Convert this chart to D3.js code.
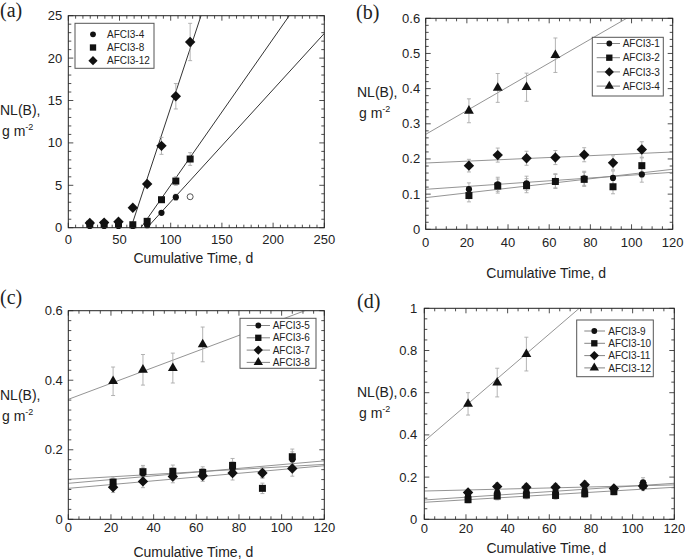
<!DOCTYPE html>
<html><head><meta charset="utf-8">
<script src="https://cdn.jsdelivr.net/npm/d3@7"></script>
<style>
body{margin:0;background:#fff;}
svg{display:block;font-family:"Liberation Sans",Arial,sans-serif;}
</style></head><body>
<svg id="c" width="685" height="559"></svg>
<script>
// ---------------- DATA ----------------
const timesA = [21, 35, 49, 63, 77, 91, 105, 119];
const times = [21, 35, 49, 63, 77, 91, 105];

// Panel (a)
const a4 = [0.2, 0.2, 0.2, 0.2, 0.3, 1.75, 3.6];
const a4Err = [0, 0, 0, 0, 0, 0, 0.35];
const a4Open = [[119, 3.65]];
const a8 = [0.4, 0.4, 0.45, 0.35, 0.75, 3.3, 5.5, 8.1];
const a8Err = [0, 0, 0, 0, 0, 0, 0.5, 0.75];
const a12 = [0.55, 0.6, 0.7, 2.35, 5.15, 9.65, 15.5, 21.9];
const a12Err = [0, 0, 0, 0, 0, 1.0, 1.5, 2.2];
const fitA = [[-10.19, 0.1324], [-12.26, 0.1727], [-22.37, 0.3655]]; // [intercept, slope]
const legendA = ["AFCI3-4", "AFCI3-8", "AFCI3-12"];
const yTicksA = [0, 5, 10, 15, 20, 25];
const xTicksA = [0, 50, 100, 150, 200, 250];

// Panel (b)
const b1 = [0.114, 0.128, 0.131, 0.138, 0.145, 0.146, 0.156];
const b2 = [0.096, 0.123, 0.124, 0.136, 0.142, 0.121, 0.181];
const b3 = [0.181, 0.211, 0.202, 0.204, 0.212, 0.189, 0.227];
const b4 = [0.337, 0.402, 0.404, 0.495];
const bErr = [0.018, 0.02, 0.02, 0.02, 0.02, 0.02, 0.022];
const b4Err = [0.034, 0.041, 0.04, 0.049];
const fitB = [[0.1137, 0.000403], [0.09, 0.000672], [0.1885, 0.000261], [0.27, 0.00338]];
const legendB = ["AFCI3-1", "AFCI3-2", "AFCI3-3", "AFCI3-4"];
const yTicksB = [0, 0.1, 0.2, 0.3, 0.4, 0.5, 0.6];

// Panel (c)
const c5 = [0.102, 0.132, 0.13, 0.13, 0.145, 0.135, 0.172];
const c6 = [0.107, 0.137, 0.138, 0.135, 0.155, 0.089, 0.18];
const c7 = [0.092, 0.109, 0.123, 0.125, 0.133, 0.133, 0.146];
const c8 = [0.397, 0.43, 0.435, 0.503];
const cErr = [0.015, 0.018, 0.018, 0.016, 0.02, 0.015, 0.022];
const c8Err = [0.041, 0.044, 0.043, 0.05];
const fitC = [[0.115, 0.000358], [0.1035, 0.000538], [0.089, 0.000542], [0.345, 0.0023]];
const legendC = ["AFCI3-5", "AFCI3-6", "AFCI3-7", "AFCI3-8"];
const yTicksC = [0, 0.2, 0.4, 0.6];

// Panel (d)
const d9 = [0.112, 0.128, 0.132, 0.133, 0.14, 0.145, 0.175];
const d10 = [0.093, 0.11, 0.115, 0.113, 0.121, 0.131, 0.16];
const d11 = [0.127, 0.155, 0.152, 0.152, 0.164, 0.146, 0.158];
const d12 = [0.547, 0.648, 0.783];
const dErr = [0.015, 0.018, 0.018, 0.018, 0.018, 0.015, 0.022];
const d12Err = [0.053, 0.068, 0.08];
const fitD = [[0.0915, 0.00066], [0.0806, 0.000593], [0.134, 0.000242], [0.37, 0.00847]];
const legendD = ["AFCI3-9", "AFCI3-10", "AFCI3-11", "AFCI3-12"];
const yTicksD = [0, 0.2, 0.4, 0.6, 0.8, 1];

const xTicksB = [0, 20, 40, 60, 80, 100, 120];

// ---------------- DRAWING ----------------
const svg = d3.select("#c");

const shapes = {
  circle: d3.symbol().type(d3.symbolCircle).size(30)(),
  square: d3.symbol().type(d3.symbolSquare).size(49)(),
  diamond: "M0,-5.2L5.2,0L0,5.2L-5.2,0Z",
  triangle: d3.symbol().type(d3.symbolTriangle).size(42)()
};
const legShapes = {
  circle: d3.symbol().type(d3.symbolCircle).size(26)(),
  square: d3.symbol().type(d3.symbolSquare).size(40)(),
  diamond: "M0,-4.6L4.6,0L0,4.6L-4.6,0Z",
  triangle: d3.symbol().type(d3.symbolTriangle).size(38)()
};

function panel(cfg) {
  const g = svg.append("g");
  const x = d3.scaleLinear().domain(cfg.xDom).range([cfg.x0, cfg.x1]);
  const y = d3.scaleLinear().domain(cfg.yDom).range([cfg.y1, cfg.y0]);
  const id = "clip" + cfg.label.replace(/\W/g, "");
  svg.append("clipPath").attr("id", id).append("rect")
    .attr("x", cfg.x0).attr("y", cfg.y0).attr("width", cfg.x1 - cfg.x0).attr("height", cfg.y1 - cfg.y0);

  // ticks (inside, all four sides)
  const minorX = [], minorY = [];
  const xs = cfg.xTicks, ys = cfg.yTicks;
  for (let i = 0; i < xs.length - 1; i++) {
    const st = (xs[i + 1] - xs[i]) / cfg.xSub;
    for (let k = 1; k < cfg.xSub; k++) minorX.push(xs[i] + st * k);
  }
  for (let i = 0; i < ys.length - 1; i++) {
    const st = (ys[i + 1] - ys[i]) / cfg.ySub;
    for (let k = 1; k < cfg.ySub; k++) minorY.push(ys[i] + st * k);
  }
  const tk = g.append("g").attr("stroke", "#222").attr("stroke-width", 0.8);
  const addX = (vals, len) => vals.forEach(v => {
    const px = x(v);
    tk.append("line").attr("x1", px).attr("x2", px).attr("y1", cfg.y1).attr("y2", cfg.y1 - len);
    tk.append("line").attr("x1", px).attr("x2", px).attr("y1", cfg.y0).attr("y2", cfg.y0 + len);
  });
  const addY = (vals, len) => vals.forEach(v => {
    const py = y(v);
    tk.append("line").attr("y1", py).attr("y2", py).attr("x1", cfg.x0).attr("x2", cfg.x0 + len);
    tk.append("line").attr("y1", py).attr("y2", py).attr("x1", cfg.x1).attr("x2", cfg.x1 - len);
  });
  addX(xs, 5); addX(minorX, 3); addY(ys, 5); addY(minorY, 3);

  // tick labels
  g.append("g").selectAll("text").data(xs).join("text")
    .attr("x", d => x(d)).attr("y", cfg.xLabY).attr("text-anchor", "middle")
    .attr("font-size", 13).attr("fill", "#222").text(d => d);
  g.append("g").selectAll("text").data(ys).join("text")
    .attr("x", cfg.x0 - cfg.yLabGap).attr("y", d => y(d) + 4.5).attr("text-anchor", "end")
    .attr("font-size", 13).attr("fill", "#222").text(d => d);

  // titles
  g.append("text").attr("x", (cfg.x0 + cfg.x1) / 2 - 3).attr("y", cfg.xTitleY).attr("text-anchor", "middle")
    .attr("font-size", 14).attr("fill", "#222").text("Cumulative Time, d");
  g.append("text").attr("x", cfg.yTitleX).attr("y", cfg.yTitleY).attr("font-size", 14).attr("fill", "#222").text("NL(B),");
  const t2 = g.append("text").attr("x", cfg.yTitleX + 2).attr("y", cfg.yTitleY + 21).attr("font-size", 14).attr("fill", "#222");
  t2.append("tspan").text("g m");
  t2.append("tspan").attr("dy", -6).attr("font-size", 9).text("-2");
  g.append("text").attr("x", cfg.labX).attr("y", cfg.labY).attr("font-family", "'Liberation Serif','Times New Roman',serif")
    .attr("font-size", 20).attr("fill", "#222").text(cfg.label);

  // fit lines
  const lg = g.append("g").attr("clip-path", `url(#${id})`);
  cfg.fits.forEach(f => {
    const xa = cfg.fitStart ? Math.max(cfg.xDom[0], -f[0] / f[1]) : cfg.xDom[0];
    const xb = cfg.xDom[1];
    lg.append("line").attr("x1", x(xa)).attr("y1", y(f[0] + f[1] * xa))
      .attr("x2", x(xb)).attr("y2", y(f[0] + f[1] * xb))
      .attr("stroke", cfg.fitColor).attr("stroke-width", cfg.fitWidth);
  });

  // series
  cfg.series.forEach(s => {
    const pts = s.vals.map((v, i) => ({ t: s.t[i], v, e: s.err ? s.err[i] : 0 }));
    const eg = g.append("g").attr("stroke", "#aaa").attr("stroke-width", 0.9);
    pts.filter(p => p.e > 0).forEach(p => {
      const px = x(p.t);
      eg.append("line").attr("x1", px).attr("x2", px).attr("y1", y(p.v - p.e)).attr("y2", y(p.v + p.e));
      eg.append("line").attr("x1", px - 2).attr("x2", px + 2).attr("y1", y(p.v - p.e)).attr("y2", y(p.v - p.e));
      eg.append("line").attr("x1", px - 2).attr("x2", px + 2).attr("y1", y(p.v + p.e)).attr("y2", y(p.v + p.e));
    });
  });
  cfg.series.forEach(s => {
    const pts = s.vals.map((v, i) => ({ t: s.t[i], v }));
    g.append("g").selectAll("path").data(pts).join("path")
      .attr("d", shapes[s.shape]).attr("transform", p => `translate(${x(p.t)},${y(p.v)})`)
      .attr("fill", "#111");
  });
  if (cfg.extra) cfg.extra(g, x, y);

  // frame
  g.append("rect").attr("x", cfg.x0).attr("y", cfg.y0).attr("width", cfg.x1 - cfg.x0).attr("height", cfg.y1 - cfg.y0)
    .attr("fill", "none").attr("stroke", "#222").attr("stroke-width", 1);

  // legend
  const L = cfg.legend;
  const lgd = g.append("g");
  lgd.append("rect").attr("x", L.x0).attr("y", L.y0).attr("width", L.x1 - L.x0).attr("height", L.y1 - L.y0)
    .attr("fill", "#fff").attr("stroke", "#555").attr("stroke-width", 1);
  L.names.forEach((n, i) => {
    const yy = L.rowY0 + i * L.rowH;
    if (L.lineX0 != null) lgd.append("line").attr("x1", L.lineX0).attr("x2", L.lineX1).attr("y1", yy).attr("y2", yy)
      .attr("stroke", "#666").attr("stroke-width", 0.8);
    lgd.append("path").attr("d", legShapes[cfg.series[i].shape]).attr("transform", `translate(${L.symX},${yy})`).attr("fill", "#111");
    lgd.append("text").attr("x", L.textX).attr("y", yy + 3.6).attr("font-size", 10).attr("fill", "#222").text(n);
  });
}

panel({
  label: "(a)", labX: 0, labY: 17,
  x0: 68.3, x1: 324.3, y0: 15.7, y1: 227.7, xDom: [0, 250], yDom: [0, 25],
  xTicks: xTicksA, yTicks: yTicksA, xSub: 7, ySub: 5,
  xLabY: 244, yLabGap: 6, xTitleY: 263, yTitleX: 0, yTitleY: 115,
  fits: fitA, fitStart: true, fitColor: "#333", fitWidth: 1,
  series: [
    { shape: "circle", t: times, vals: a4, err: a4Err },
    { shape: "square", t: timesA, vals: a8, err: a8Err },
    { shape: "diamond", t: timesA, vals: a12, err: a12Err }
  ],
  extra: (g, x, y) => {
    g.selectAll(".open").data(a4Open).join("circle").attr("cx", d => x(d[0])).attr("cy", d => y(d[1]))
      .attr("r", 3).attr("fill", "#fff").attr("stroke", "#444").attr("stroke-width", 0.9);
  },
  legend: { x0: 75, x1: 154, y0: 23.3, y1: 68.3, rowY0: 34.3, rowH: 13.2, symX: 93, textX: 107, names: legendA }
});

panel({
  label: "(b)", labX: 356, labY: 19,
  x0: 425.7, x1: 672.7, y0: 18.3, y1: 229.3, xDom: [0, 120], yDom: [0, 0.6],
  xTicks: xTicksB, yTicks: yTicksB, xSub: 4, ySub: 5,
  xLabY: 247, yLabGap: 5.5, xTitleY: 278, yTitleX: 357, yTitleY: 97,
  fits: fitB, fitStart: false, fitColor: "#888", fitWidth: 0.9,
  series: [
    { shape: "circle", t: times, vals: b1, err: bErr },
    { shape: "square", t: times, vals: b2, err: bErr },
    { shape: "diamond", t: times, vals: b3, err: bErr },
    { shape: "triangle", t: times.slice(0, 4), vals: b4, err: b4Err }
  ],
  legend: { x0: 592.3, x1: 663.3, y0: 37.3, y1: 96, rowY0: 43.5, rowH: 14.2, lineX0: 596.7, lineX1: 620, symX: 609.3, textX: 622.7, names: legendB }
});

panel({
  label: "(c)", labX: 0, labY: 304,
  x0: 68.3, x1: 324.3, y0: 310.7, y1: 519.3, xDom: [0, 120], yDom: [0, 0.6],
  xTicks: xTicksB, yTicks: yTicksC, xSub: 4, ySub: 7,
  xLabY: 531.5, yLabGap: 5.5, xTitleY: 556.5, yTitleX: 0, yTitleY: 400,
  fits: fitC, fitStart: false, fitColor: "#888", fitWidth: 0.9,
  series: [
    { shape: "circle", t: times, vals: c5, err: cErr },
    { shape: "square", t: times, vals: c6, err: cErr },
    { shape: "diamond", t: times, vals: c7, err: cErr },
    { shape: "triangle", t: times.slice(0, 4), vals: c8, err: c8Err }
  ],
  legend: { x0: 240, x1: 316, y0: 318.3, y1: 368.3, rowY0: 325.5, rowH: 12.3, lineX0: 246.7, lineX1: 270, symX: 258.3, textX: 272.7, names: legendC }
});

panel({
  label: "(d)", labX: 357, labY: 308,
  x0: 424.3, x1: 674.3, y0: 308.3, y1: 519.3, xDom: [0, 120], yDom: [0, 1],
  xTicks: xTicksB, yTicks: yTicksD, xSub: 4, ySub: 4,
  xLabY: 533, yLabGap: 7, xTitleY: 553, yTitleX: 357, yTitleY: 397,
  fits: fitD, fitStart: false, fitColor: "#888", fitWidth: 0.9,
  series: [
    { shape: "circle", t: times, vals: d9, err: dErr },
    { shape: "square", t: times, vals: d10, err: dErr },
    { shape: "diamond", t: times, vals: d11, err: dErr },
    { shape: "triangle", t: times.slice(0, 3), vals: d12, err: d12Err }
  ],
  legend: { x0: 576.7, x1: 653.3, y0: 320, y1: 376.7, rowY0: 331, rowH: 12.3, lineX0: 584.3, lineX1: 605, symX: 594.3, textX: 608.3, names: legendD }
});
</script>
</body></html>
